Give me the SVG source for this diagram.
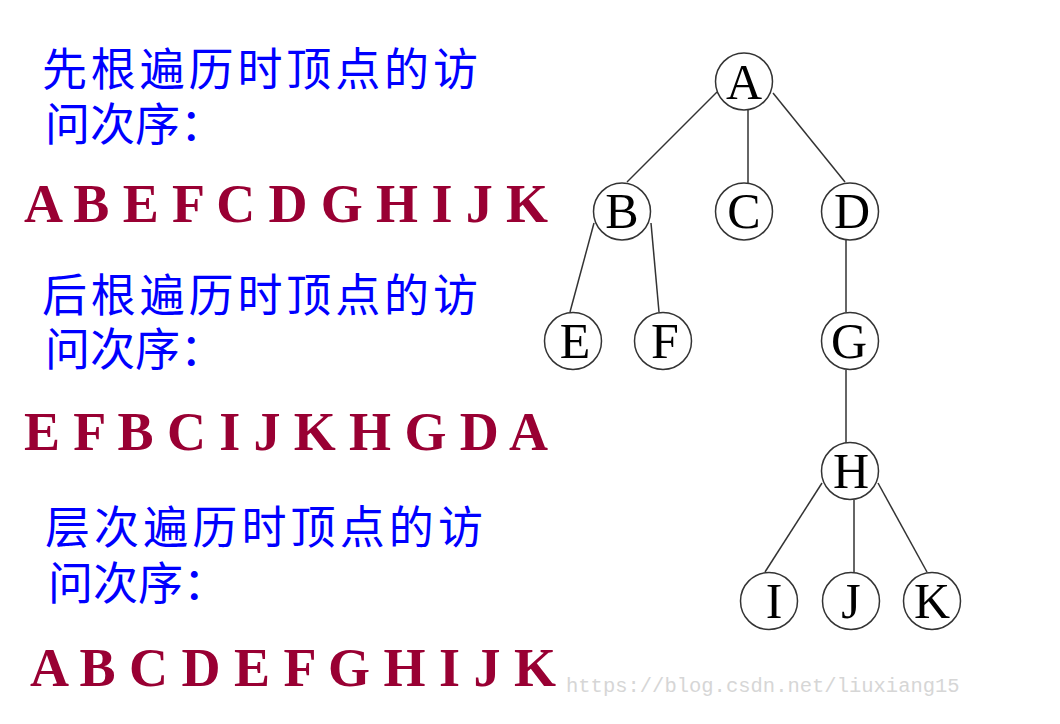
<svg xmlns="http://www.w3.org/2000/svg" width="1060" height="724" viewBox="0 0 1060 724">
<style>
.cn{font-family:"Noto Sans CJK SC","Noto Sans CJK JP",sans-serif;font-size:45px;fill:#0000ff}
.seq{font-family:"Liberation Serif","Times New Roman",serif;font-weight:bold;font-size:54px;fill:#990033}
.node circle{fill:#ffffff;stroke:#333333;stroke-width:1.5}
.node text{font-family:"Liberation Serif","Times New Roman",serif;font-size:50px;fill:#000000;text-anchor:middle}
.edges line{stroke:#333333;stroke-width:1.5}
.wm{font-family:"Liberation Mono","DejaVu Sans Mono",monospace;font-size:20.5px;fill:#d6d6d6}
</style>
<rect width="1060" height="724" fill="#ffffff"/>
<g id="texts">
<text class="cn"><tspan x="42" y="86" textLength="436" lengthAdjust="spacing">先根遍历时顶点的访</tspan><tspan x="45" y="141">问次序：</tspan></text>
<text class="seq" x="24" y="222" textLength="524" lengthAdjust="spacing">A B E F C D G H I J K</text>
<text class="cn"><tspan x="42" y="312" textLength="436" lengthAdjust="spacing">后根遍历时顶点的访</tspan><tspan x="45" y="366">问次序：</tspan></text>
<text class="seq" x="24" y="450" textLength="524" lengthAdjust="spacing">E F B C I J K H G D A</text>
<text class="cn"><tspan x="45" y="544" textLength="438" lengthAdjust="spacing">层次遍历时顶点的访</tspan><tspan x="48" y="600">问次序：</tspan></text>
<text class="seq" x="30" y="686" textLength="526" lengthAdjust="spacing">A B C D E F G H I J K</text>
<text class="wm" x="566" y="692">https://blog.csdn.net/liuxiang15</text>
</g>
<g id="connectors" class="edges">
<line x1="717" y1="92" x2="627" y2="182"/>
<line x1="748" y1="109" x2="748" y2="183"/>
<line x1="773" y1="93" x2="845" y2="182"/>
<line x1="594" y1="223" x2="570" y2="312"/>
<line x1="651" y1="223" x2="659" y2="312"/>
<line x1="846" y1="240" x2="846" y2="312"/>
<line x1="846" y1="370" x2="846" y2="443"/>
<line x1="822" y1="483" x2="765" y2="572"/>
<line x1="854" y1="500" x2="854" y2="572"/>
<line x1="878" y1="483" x2="927" y2="572"/>
</g>
<g id="node-A" class="node"><circle cx="744" cy="81.5" r="28.5"/><text x="744" y="99">A</text></g>
<g id="node-B" class="node"><circle cx="622" cy="211.5" r="28.5"/><text x="622" y="228">B</text></g>
<g id="node-C" class="node"><circle cx="744" cy="211.5" r="28.5"/><text x="744" y="228">C</text></g>
<g id="node-D" class="node"><circle cx="850" cy="211.5" r="28.5"/><text x="852" y="228">D</text></g>
<g id="node-E" class="node"><circle cx="573" cy="341" r="28.5"/><text x="575" y="358">E</text></g>
<g id="node-F" class="node"><circle cx="663" cy="341" r="28.5"/><text x="665" y="358">F</text></g>
<g id="node-G" class="node"><circle cx="850" cy="341" r="28.5"/><text x="849" y="358">G</text></g>
<g id="node-H" class="node"><circle cx="850" cy="471" r="28.5"/><text x="851" y="488">H</text></g>
<g id="node-I" class="node"><circle cx="769" cy="601" r="28.5"/><text x="774" y="618">I</text></g>
<g id="node-J" class="node"><circle cx="851" cy="601" r="28.5"/><text x="851" y="618">J</text></g>
<g id="node-K" class="node"><circle cx="932" cy="601" r="28.5"/><text x="932" y="618">K</text></g>
</svg>
